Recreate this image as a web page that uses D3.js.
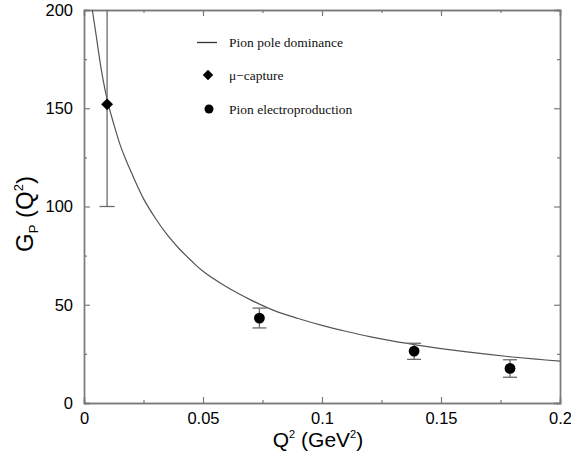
<!DOCTYPE html>
<html>
<head>
<meta charset="utf-8">
<script src="https://cdn.jsdelivr.net/npm/d3@7"></script>
<style>
  body { margin: 0; background: #fff; }
  .tick text { font-family: "Liberation Sans", Arial, sans-serif; }
</style>
</head>
<body>
<script>
// G_P(Q^2) chart - pion pole curve, mu-capture and electroproduction points

// pion pole dominance curve
var curveQ2 = [0.0035, 0.005, 0.0075, 0.01, 0.0125, 0.015, 0.0175, 0.02, 0.025, 0.03, 0.035, 0.04, 0.045, 0.05, 0.06, 0.07, 0.08, 0.09, 0.10, 0.11, 0.12, 0.13, 0.14, 0.15, 0.16, 0.17, 0.18, 0.19, 0.20];
var curveGP = [200, 188, 168, 153, 142, 132, 124, 117, 104, 94, 85.5, 78.5, 72.5, 67, 59, 52.5, 47, 43, 39.5, 36.5, 33.8, 31.5, 29.5, 27.7, 26.1, 24.7, 23.4, 22.3, 21.3];

// mu-capture point
var muQ2 = [0.0097];
var muGP = [152];
var muLow = [100];
var muHigh = [260];

// pion electroproduction points
var epQ2 = [0.0737, 0.1387, 0.179];
var epGP = [43.2, 26.4, 17.6];
var epLow = [38.2, 22.2, 13.1];
var epHigh = [48.3, 30.4, 22.0];

var xTicks = [0, 0.05, 0.1, 0.15, 0.2];
var yTicks = [0, 50, 100, 150, 200];
var xMinor = [0.025, 0.075, 0.125, 0.175];
var yMinor = [25, 75, 125, 175];

var legendLabels = ["Pion pole dominance", "\u03bc\u2212capture", "Pion electroproduction"];

var width = 571, height = 456;
var margin = {top: 10, right: 11, bottom: 53, left: 84};
var w = width - margin.left - margin.right;
var h = height - margin.top - margin.bottom;

var svg = d3.select("body")
            .append("svg")
            .attr("width", width)
            .attr("height", height);

var g = svg.append("g")
           .attr("transform", "translate(" + margin.left + "," + margin.top + ")");

var xScale = d3.scaleLinear().domain([0, 0.2]).range([0, w]);
var yScale = d3.scaleLinear().domain([0, 200]).range([h, 0]);

var axisColor = "#7a7a7a";

// clip for curve and error bars
svg.append("defs").append("clipPath")
   .attr("id", "plotclip")
   .append("rect")
   .attr("width", w)
   .attr("height", h);

// axes, ticks pointing inward, on all four sides
function styleAxis(sel) {
  sel.select(".domain").attr("stroke", axisColor).attr("stroke-width", 1.4);
  sel.selectAll(".tick line").attr("stroke", axisColor).attr("stroke-width", 1.2);
  sel.selectAll(".tick text").attr("fill", "#000").style("font-size", "16.5px");
}

var xAxis = g.append("g")
  .attr("transform", "translate(0," + h + ")")
  .call(d3.axisBottom(xScale).tickValues(xTicks).tickSize(-6).tickPadding(9)
        .tickFormat(function(d) { return d === 0 ? "0" : String(d); }));
styleAxis(xAxis);

g.append("g")
  .attr("transform", "translate(0," + h + ")")
  .call(d3.axisBottom(xScale).tickValues(xMinor).tickSize(-3).tickFormat(""))
  .call(styleAxis);

var yAxis = g.append("g")
  .call(d3.axisLeft(yScale).tickValues(yTicks).tickSize(-6).tickPadding(11));
styleAxis(yAxis);

g.append("g")
  .call(d3.axisLeft(yScale).tickValues(yMinor).tickSize(-3).tickFormat(""))
  .call(styleAxis);

g.append("g")
  .call(d3.axisTop(xScale).tickValues(xTicks).tickSize(-6).tickFormat(""))
  .call(styleAxis);
g.append("g")
  .call(d3.axisTop(xScale).tickValues(xMinor).tickSize(-3).tickFormat(""))
  .call(styleAxis);

g.append("g")
  .attr("transform", "translate(" + w + ",0)")
  .call(d3.axisRight(yScale).tickValues(yTicks).tickSize(-6).tickFormat(""))
  .call(styleAxis);
g.append("g")
  .attr("transform", "translate(" + w + ",0)")
  .call(d3.axisRight(yScale).tickValues(yMinor).tickSize(-3).tickFormat(""))
  .call(styleAxis);

var plot = g.append("g").attr("clip-path", "url(#plotclip)");

// theory curve
var curveData = curveQ2.map(function(d, i) { return {x: d, y: curveGP[i]}; });
var line = d3.line()
  .x(function(d) { return xScale(d.x); })
  .y(function(d) { return yScale(d.y); })
  .curve(d3.curveCatmullRom);

plot.append("path")
  .datum(curveData)
  .attr("fill", "none")
  .attr("stroke", "#555")
  .attr("stroke-width", 1.2)
  .attr("d", line);

// error bars
var barColor = "#6a6a6a";
function errorBars(xs, lows, highs, cap) {
  xs.forEach(function(x, i) {
    var cx = xScale(x);
    plot.append("line")
      .attr("x1", cx).attr("x2", cx)
      .attr("y1", yScale(lows[i])).attr("y2", yScale(highs[i]))
      .attr("stroke", barColor).attr("stroke-width", 1.3);
    [lows[i], highs[i]].forEach(function(v) {
      plot.append("line")
        .attr("x1", cx - cap).attr("x2", cx + cap)
        .attr("y1", yScale(v)).attr("y2", yScale(v))
        .attr("stroke", barColor).attr("stroke-width", 1.3);
    });
  });
}
errorBars(muQ2, muLow, muHigh, 7.5);
errorBars(epQ2, epLow, epHigh, 7);

// mu-capture diamond
var diamond = d3.symbol().type(d3.symbolDiamond2).size(90);
g.selectAll(".mu")
  .data(muQ2)
  .enter()
  .append("path")
  .attr("class", "mu")
  .attr("d", diamond)
  .attr("transform", function(d, i) {
    return "translate(" + xScale(d) + "," + yScale(muGP[i]) + ")";
  })
  .attr("fill", "#000");

// electroproduction dots
g.selectAll(".ep")
  .data(epQ2)
  .enter()
  .append("circle")
  .attr("class", "ep")
  .attr("cx", function(d) { return xScale(d); })
  .attr("cy", function(d, i) { return yScale(epGP[i]); })
  .attr("r", 5.4)
  .attr("fill", "#000");

// legend
var legend = svg.append("g").attr("transform", "translate(197,0)");
var legendY = [42.5, 75, 109];

legend.append("line")
  .attr("x1", 0).attr("x2", 20)
  .attr("y1", legendY[0]).attr("y2", legendY[0])
  .attr("stroke", "#333").attr("stroke-width", 1.3);

legend.append("path")
  .attr("d", d3.symbol().type(d3.symbolDiamond2).size(70))
  .attr("transform", "translate(11," + legendY[1] + ")")
  .attr("fill", "#000");

legend.append("circle")
  .attr("cx", 12).attr("cy", legendY[2]).attr("r", 4.5)
  .attr("fill", "#000");

legend.selectAll(".leglabel")
  .data(legendLabels)
  .enter()
  .append("text")
  .attr("class", "leglabel")
  .attr("x", 32)
  .attr("y", function(d, i) { return legendY[i] + 4.5; })
  .style("font-family", "'Liberation Serif', 'Times New Roman', serif")
  .style("font-size", "13.5px")
  .attr("fill", "#111")
  .text(function(d) { return d; });

// x axis title
var xt = svg.append("text")
  .attr("x", margin.left + w / 2 - 4)
  .attr("y", 447)
  .attr("text-anchor", "middle")
  .style("font-family", "'Liberation Sans', Arial, sans-serif")
  .style("font-size", "21px")
  .attr("fill", "#000");
xt.append("tspan").text("Q");
xt.append("tspan").attr("dy", -9).style("font-size", "11px").text("2");
xt.append("tspan").attr("dy", 9).text(" (GeV");
xt.append("tspan").attr("dy", -9).style("font-size", "11px").text("2");
xt.append("tspan").attr("dy", 9).text(")");

// y axis title
var yt = svg.append("text")
  .attr("transform", "translate(33,214) rotate(-90)")
  .attr("text-anchor", "middle")
  .style("font-family", "'Liberation Sans', Arial, sans-serif")
  .style("font-size", "24px")
  .attr("fill", "#000");
yt.append("tspan").text("G");
yt.append("tspan").attr("dy", 5).style("font-size", "13px").text("P");
yt.append("tspan").attr("dy", -5).text(" (Q");
yt.append("tspan").attr("dy", -10).style("font-size", "13px").text("2");
yt.append("tspan").attr("dy", 10).text(")");
</script>
</body>
</html>
